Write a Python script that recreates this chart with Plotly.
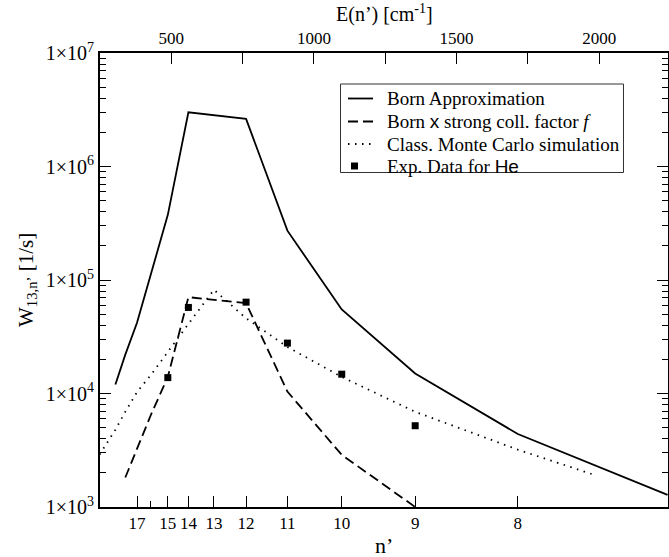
import plotly.graph_objects as go

R = 109737.0  # Rydberg constant in cm^-1, E(n') = R / n'^2

# Born approximation
born_n = [19, 18, 17, 16, 15, 14, 12, 11, 10, 9, 8, 7]
born_w = [1.2e4, 2.2e4, 4.2e4, 1.15e5, 3.75e5, 3.0e6, 2.63e6, 2.72e5, 5.5e4, 1.5e4, 4.4e3, 1.28e3]

# Born x strong collision factor f
strong_n = [18, 17, 16, 15, 14, 12, 11, 10, 9]
strong_w = [1.82e3, 3.3e3, 6.5e3, 1.4e4, 7.06e4, 6.25e4, 1.04e4, 2.88e3, 1.0e3]

# Classical Monte Carlo simulation
mc_n = [21, 20, 19, 18, 17, 16, 15, 14, 13, 12, 11, 10, 9, 8, 7.43]
mc_w = [2.9e3, 3.65e3, 4.8e3, 6.9e3, 1.03e4, 1.46e4, 2.3e4, 4.1e4, 8.2e4, 4.6e4, 2.57e4, 1.4e4, 6.9e3, 3.2e3, 1.9e3]

# Experimental data for He
exp_n = [15, 14, 12, 11, 10, 9]
exp_w = [1.38e4, 5.73e4, 6.38e4, 2.78e4, 1.48e4, 5.2e3]

# Axis ticks
n_tick_vals = [17, 15, 14, 13, 12, 11, 10, 9, 8, 7]
n_minor_vals = [16]
e_tick_vals = [500, 750, 1000, 1250, 1500, 1750, 2000]
e_tick_text = ["500", " ", "1000", " ", "1500", " ", "2000"]
y_tick_vals = [1e3, 1e4, 1e5, 1e6, 1e7]
y_tick_text = ["1×10<sup>3</sup>", "1×10<sup>4</sup>", "1×10<sup>5</sup>",
               "1×10<sup>6</sup>", "1×10<sup>7</sup>"]

SERIF = "Liberation Serif, Times New Roman, Times, serif"
SANS_SPAN = "<span style='font-family:Liberation Sans, Arial, sans-serif'>{}</span>"

# legend labels
leg_names = ["Born Approximation",
             "Born " + SANS_SPAN.format("x") + " strong coll. factor <i>f</i>",
             "Class. Monte Carlo simulation",
             "Exp. Data for " + SANS_SPAN.format("He")]


def E(ns):
    return [R / (n * n) for n in ns]


# figure geometry (pixels)
W, H = 669, 557
ML, MR, MT, MB = 100, 1, 53, 50
PW, PH = W - ML - MR, H - MT - MB


def px(x):
    return (x - ML) / PW


def py(y):
    return (H - MB - y) / PH


fig = go.Figure()
fig.add_trace(go.Scatter(x=E(born_n), y=born_w, mode="lines",
                         line=dict(color="black", width=1.8),
                         name=leg_names[0], showlegend=False))
fig.add_trace(go.Scatter(x=E(strong_n), y=strong_w, mode="lines",
                         line=dict(color="black", width=1.8, dash="10px,5px"),
                         name=leg_names[1], showlegend=False))
fig.add_trace(go.Scatter(x=E(mc_n), y=mc_w, mode="lines",
                         line=dict(color="black", width=1.8, dash="1.5px,5.5px"),
                         name=leg_names[2], showlegend=False))
fig.add_trace(go.Scatter(x=E(exp_n), y=exp_w, mode="markers",
                         marker=dict(color="black", symbol="square", size=7),
                         name=leg_names[3], showlegend=False))
# invisible trace to anchor the top energy axis
fig.add_trace(go.Scatter(x=E(exp_n), y=exp_w, mode="markers", xaxis="x2",
                         marker=dict(opacity=0), showlegend=False, hoverinfo="skip"))

# ---- hand-made legend box (to match the reference's compact spacing)
shapes = [dict(type="rect", xref="paper", yref="paper",
               x0=px(340.5), x1=px(623.5), y0=py(172.5), y1=py(84),
               line=dict(color="#333", width=1), fillcolor="white", layer="above")]
rows = [98.5, 121.5, 144, 166]
dashes = ["solid", "10px,5px", "1.5px,5.5px"]
for r, d in zip(rows[:3], dashes):
    shapes.append(dict(type="line", xref="paper", yref="paper",
                       x0=px(348), x1=px(373), y0=py(r), y1=py(r),
                       line=dict(color="black", width=1.8, dash=d), layer="above"))
shapes.append(dict(type="rect", xref="paper", yref="paper",
                   x0=px(351), x1=px(358), y0=py(rows[3] + 3.5), y1=py(rows[3] - 3.5),
                   line=dict(width=0), fillcolor="black", layer="above"))

annotations = [dict(text=t, xref="paper", yref="paper", x=px(385), y=py(r),
                    xanchor="left", yanchor="middle", showarrow=False,
                    font=dict(family=SERIF, size=19, color="black"))
               for t, r in zip(leg_names, rows)]

annotations += [
    dict(text="E(n’) [cm<sup>-1</sup>]", xref="paper", yref="paper",
         x=0.5, y=1, yshift=40, showarrow=False, xanchor="center",
         yanchor="middle", font=dict(family=SERIF, size=20)),
    dict(text="n’", xref="paper", yref="paper",
         x=0.5, y=0, yshift=-38, showarrow=False, xanchor="center",
         yanchor="middle", font=dict(family=SERIF, size=22)),
    dict(text="W<sub>13,n’</sub> [1/s]", xref="paper", yref="paper",
         x=0, y=0.5, xshift=-73, showarrow=False, xanchor="center",
         yanchor="middle", textangle=-90, font=dict(family=SERIF, size=21)),
]

xr = [250, 2241]
fig.update_layout(
    width=W, height=H,
    margin=dict(l=ML, r=MR, t=MT, b=MB),
    plot_bgcolor="white", paper_bgcolor="white",
    font=dict(family=SERIF, size=17, color="black"),
    showlegend=False,
    shapes=shapes,
    annotations=annotations,
    xaxis=dict(range=xr, showline=True, linecolor="black", linewidth=2,
               mirror=False, ticks="inside", ticklen=11, tickwidth=1,
               tickcolor="black", showgrid=False, zeroline=False,
               automargin=False,
               tickmode="array", tickvals=E(n_tick_vals),
               ticktext=[str(n) for n in n_tick_vals],
               tickfont=dict(family=SERIF, size=17),
               minor=dict(tickmode="array", tickvals=E(n_minor_vals),
                          ticks="inside", ticklen=6, tickcolor="black")),
    xaxis2=dict(range=xr, overlaying="x", side="top", anchor="y",
                showline=True, linecolor="black", linewidth=2,
                ticks="inside", ticklen=11, tickwidth=1, tickcolor="black",
                showgrid=False, zeroline=False, automargin=False,
                tickmode="array", tickvals=e_tick_vals, ticktext=e_tick_text,
                tickfont=dict(family=SERIF, size=17)),
    yaxis=dict(type="log", range=[3, 7], showline=True, linecolor="black",
               linewidth=2, mirror="ticks", ticks="inside", ticklen=11,
               tickwidth=1, tickcolor="black", showgrid=False, zeroline=False,
               automargin=False,
               tickmode="array", tickvals=y_tick_vals, ticktext=y_tick_text,
               tickfont=dict(family=SERIF, size=20),
               minor=dict(ticks="inside", ticklen=6, tickcolor="black", dtick="D1")),
)

fig.write_html("out.html",
               config={"displayModeBar": False},
               post_script="document.body.style.margin='0px';"
                           "document.body.style.overflow='hidden';")
